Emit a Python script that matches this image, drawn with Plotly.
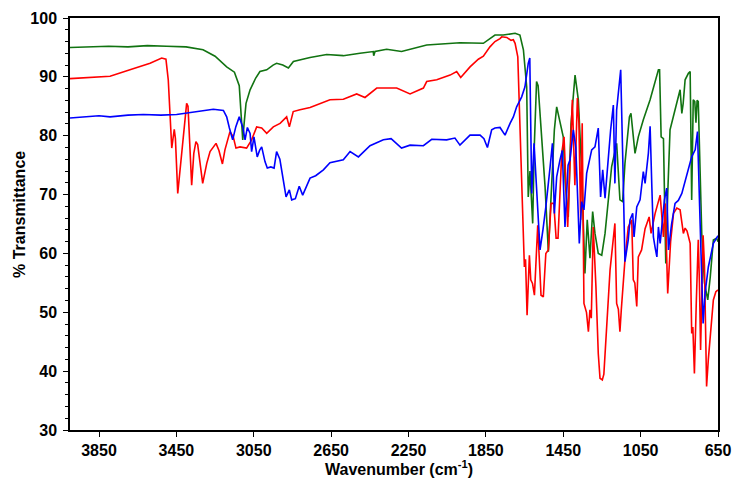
import plotly.graph_objects as go

# ---- data (wavenumber cm-1, % transmittance) ----
green_wn = [4000, 3900, 3800, 3700, 3600, 3500, 3400, 3312, 3250, 3190, 3150, 3125, 3115, 3107, 3100, 3090,
            3069, 3040, 3018, 2983, 2950, 2932, 2900, 2871, 2845, 2800, 2759, 2673, 2587, 2501, 2432, 2430,
            2423, 2363, 2286, 2156, 2035, 1984, 1863, 1837, 1803, 1760, 1699, 1674, 1656, 1639, 1631, 1622,
            1608, 1600, 1588, 1580, 1562, 1544, 1527, 1510, 1496, 1484, 1475, 1464, 1450, 1440, 1424, 1410,
            1389, 1372, 1355, 1338, 1326, 1312, 1298, 1286, 1269, 1251, 1234, 1200, 1174, 1157, 1143, 1131,
            1108, 1100, 1088, 1079, 1062, 1036, 1001, 958, 952, 944, 932, 920, 910, 898, 872, 846, 837, 830,
            820, 803, 794, 786, 778, 770, 764, 758, 752, 745, 734, 720, 703, 690, 674, 657, 650]
green_t = [95.0, 95.1, 95.2, 95.1, 95.3, 95.2, 95.1, 94.6, 93.5, 91.7, 90.8, 88.5, 84.0, 79.3, 82.0, 85.5,
           87.8, 89.8, 90.9, 91.2, 92.0, 92.3, 92.0, 91.5, 92.6, 93.0, 93.3, 93.8, 93.6, 94.0, 94.3, 93.6,
           94.3, 94.7, 94.3, 95.4, 95.6, 95.8, 95.7, 96.3, 97.1, 97.1, 97.4, 97.1, 94.6, 88.3, 69.6, 74.0,
           65.1, 78.0, 89.2, 88.5, 79.8, 71.3, 60.3, 72.0, 81.0, 84.9, 83.5, 81.5, 79.8, 72.0, 66.2, 82.0,
           90.3, 86.1, 74.2, 56.6, 65.7, 59.2, 67.1, 63.4, 60.0, 59.7, 63.4, 74.7, 78.7, 69.1, 68.8, 75.3,
           83.2, 83.8, 79.8, 77.0, 79.8, 82.7, 86.1, 91.2, 91.2, 79.8, 79.5, 58.3, 70.0, 81.0, 84.4, 87.8, 83.8, 85.5,
           89.5, 90.6, 90.9, 69.1, 86.1, 85.8, 82.2, 86.0, 85.8, 78.0, 63.4, 55.0, 52.1, 56.0, 62.3, 62.6, 62.0]

red_wn = [4000, 3900, 3793, 3690, 3586, 3526, 3504, 3492, 3483, 3474, 3461, 3455, 3443, 3420, 3397, 3390,
          3380, 3371, 3360, 3349, 3340, 3314, 3293, 3276, 3245, 3230, 3212, 3199, 3173, 3156, 3142, 3121,
          3087, 3061, 3035, 3009, 2983, 2949, 2914, 2880, 2866, 2846, 2811, 2759, 2656, 2587, 2518, 2475,
          2414, 2311, 2242, 2173, 2156, 2104, 2035, 2001, 1980, 1932, 1889, 1863, 1829, 1803, 1777, 1768,
          1742, 1720, 1708, 1699, 1685, 1674, 1662, 1651, 1645, 1637, 1625, 1618, 1609, 1599, 1582, 1565,
          1553, 1540, 1527, 1513, 1499, 1487, 1477, 1458, 1446, 1427, 1403, 1390, 1377, 1369, 1360, 1352,
          1343, 1330, 1320, 1312, 1305, 1295, 1281, 1269, 1260, 1248, 1240, 1226, 1208, 1183, 1174, 1165,
          1157, 1150, 1131, 1114, 1096, 1088, 1080, 1070, 1062, 1045, 1027, 1006, 996, 975, 949, 932,
          923, 910, 895, 880, 863, 846, 829, 820, 810, 794, 786, 780, 772, 762, 752, 746, 740, 727, 720,
          709, 700, 674, 661, 650]
red_t = [89.7, 89.9, 90.1, 91.2, 92.3, 93.2, 93.0, 89.5, 82.7, 77.9, 81.1, 79.5, 70.2, 78.0, 85.5, 85.0,
         79.0, 71.6, 77.0, 79.0, 78.5, 71.9, 75.3, 77.3, 78.7, 77.5, 75.2, 77.6, 80.7, 79.8, 77.9, 78.1,
         77.9, 79.3, 81.5, 81.3, 80.4, 81.5, 82.1, 83.2, 81.5, 84.1, 84.4, 84.8, 86.1, 86.2, 87.1, 86.5,
         88.1, 88.1, 87.1, 88.1, 89.2, 89.5, 90.3, 90.9, 89.9, 91.7, 93.0, 93.5, 95.1, 96.0, 96.5, 96.8,
         96.7, 96.2, 96.3, 95.7, 93.4, 82.7, 67.9, 57.7, 59.0, 49.5, 59.7, 55.5, 54.9, 52.9, 64.8, 52.9,
         52.6, 60.0, 60.6, 68.5, 68.5, 62.6, 62.6, 77.0, 79.8, 64.5, 86.1, 71.6, 86.4, 82.1, 65.7, 82.1,
         51.5, 50.0, 46.7, 50.4, 49.0, 64.5, 54.3, 43.0, 38.8, 38.5, 39.5, 47.6, 57.2, 65.1, 51.5, 50.5,
         46.7, 50.4, 58.9, 64.5, 65.7, 55.5, 55.0, 51.0, 59.4, 60.6, 64.2, 66.2, 63.4, 66.8, 69.9, 62.8,
         68.5, 53.2, 62.0, 66.8, 67.7, 67.4, 63.4, 64.3, 63.8, 61.7, 46.4, 47.5, 39.6, 52.0, 62.3, 55.0, 43.6, 63.1, 58.0,
         37.4, 42.0, 52.1, 53.5, 53.8]

blue_wn = [4000, 3950, 3897, 3850, 3793, 3700, 3621, 3530, 3449, 3380, 3328, 3259, 3207, 3190, 3176, 3159,
           3143, 3125, 3107, 3095, 3083, 3069, 3061, 3049, 3032, 3020, 3009, 2992, 2980, 2962, 2945, 2932,
           2915, 2901, 2883, 2866, 2854, 2835, 2815, 2797, 2768, 2759, 2730, 2690, 2656, 2587, 2552, 2509,
           2449, 2380, 2340, 2286, 2242, 2173, 2130, 2053, 2010, 1984, 1932, 1880, 1860, 1842, 1820, 1803,
           1777, 1751, 1725, 1708, 1691, 1674, 1665, 1648, 1631, 1623, 1613, 1601, 1592, 1570, 1555, 1540,
           1518, 1506, 1496, 1484, 1467, 1455, 1441, 1425, 1415, 1398, 1385, 1367, 1355, 1343, 1329, 1303,
           1286, 1269, 1257, 1246, 1234, 1222, 1205, 1191, 1183, 1174, 1162, 1153, 1143, 1131, 1114, 1105,
           1091, 1084, 1070, 1053, 1036, 1027, 1010, 1001, 992, 984, 975, 966, 958, 949, 927, 915, 906,
           890, 872, 855, 837, 803, 786, 768, 756, 745, 734, 727, 717, 700, 674, 657, 650]
blue_t = [83.0, 83.1, 83.2, 83.4, 83.2, 83.5, 83.6, 83.5, 83.6, 83.9, 84.1, 84.5, 84.3, 83.2, 81.3, 79.3,
          81.5, 83.2, 81.5, 79.3, 81.4, 80.4, 77.3, 79.8, 76.4, 77.5, 78.1, 75.6, 74.5, 74.7, 74.5, 77.3,
          76.0, 73.0, 69.6, 70.8, 69.1, 69.3, 71.4, 69.9, 71.9, 72.8, 73.2, 74.2, 75.4, 75.9, 77.3, 76.4,
          78.3, 79.3, 79.5, 77.9, 78.4, 78.3, 79.4, 79.3, 79.6, 78.4, 80.1, 80.1, 79.5, 78.0, 81.0, 81.3,
          81.4, 80.1, 82.1, 83.2, 84.9, 86.1, 86.6, 88.3, 92.3, 93.2, 70.2, 78.7, 73.6, 60.6, 64.0, 67.9,
          74.7, 78.7, 66.8, 73.0, 75.9, 77.5, 64.5, 75.0, 75.9, 81.0, 78.0, 61.7, 68.8, 67.4, 73.6, 77.6,
          78.1, 81.3, 69.6, 74.2, 69.4, 74.7, 81.0, 85.2, 71.9, 84.4, 88.9, 91.2, 77.0, 58.6, 62.3, 65.7,
          66.8, 62.8, 67.9, 69.1, 73.9, 71.9, 77.0, 81.6, 71.3, 62.8, 61.0, 59.4, 64.5, 61.7, 69.1, 71.1, 60.6,
          65.0, 68.5, 69.0, 70.2, 74.2, 76.4, 77.6, 80.7, 68.0, 54.3, 48.1, 53.2, 57.7, 61.7, 62.8, 63.0]

x_ticks = [3850, 3450, 3050, 2650, 2250, 1850, 1450, 1050, 650]
y_ticks = [30, 40, 50, 60, 70, 80, 90, 100]
x_title = "<b>Wavenumber (cm<sup>-1</sup>)</b>"
y_title = "<b>% Transmittance</b>"

FONT = "Liberation Sans, Arial, sans-serif"
TICKFONT = dict(family=FONT, size=16, color="black", weight="bold")

fig = go.Figure()
for wn, t, col in [(green_wn, green_t, "#117311"), (red_wn, red_t, "#ff0000"), (blue_wn, blue_t, "#0000ff")]:
    fig.add_trace(go.Scatter(x=wn, y=t, mode="lines", line=dict(color=col, width=1.6), showlegend=False))

axis_common = dict(showline=True, linecolor="black", linewidth=1.5, mirror=True, showgrid=False,
                   zeroline=False, ticks="outside", tickcolor="black", automargin=False,
                   tickfont=TICKFONT)

fig.update_layout(
    width=732, height=481,
    margin=dict(l=70, r=14, t=18, b=51),
    paper_bgcolor="white", plot_bgcolor="white",
    font=dict(family=FONT, color="black"),
    xaxis=dict(range=[4000, 650], tickvals=x_ticks, ticktext=[str(v) for v in x_ticks],
               ticklen=5, tickwidth=1.2, **axis_common),
    yaxis=dict(range=[30, 100], tickvals=y_ticks, ticklen=5, tickwidth=1.2, ticklabelstandoff=3,
               minor=dict(dtick=2, ticks="outside", ticklen=3, tickcolor="black", tickwidth=1),
               **axis_common),
    annotations=[
        dict(text=x_title, xref="paper", yref="paper", x=0.5077, y=-0.092, xanchor="center", yanchor="middle",
             showarrow=False, font=dict(family=FONT, size=16, color="black")),
        dict(text=y_title, xref="paper", yref="paper", x=-0.078, y=0.523, xanchor="center", yanchor="middle",
             textangle=-90, showarrow=False, font=dict(family=FONT, size=16, color="black")),
    ],
)

fig.write_html("out.html")
